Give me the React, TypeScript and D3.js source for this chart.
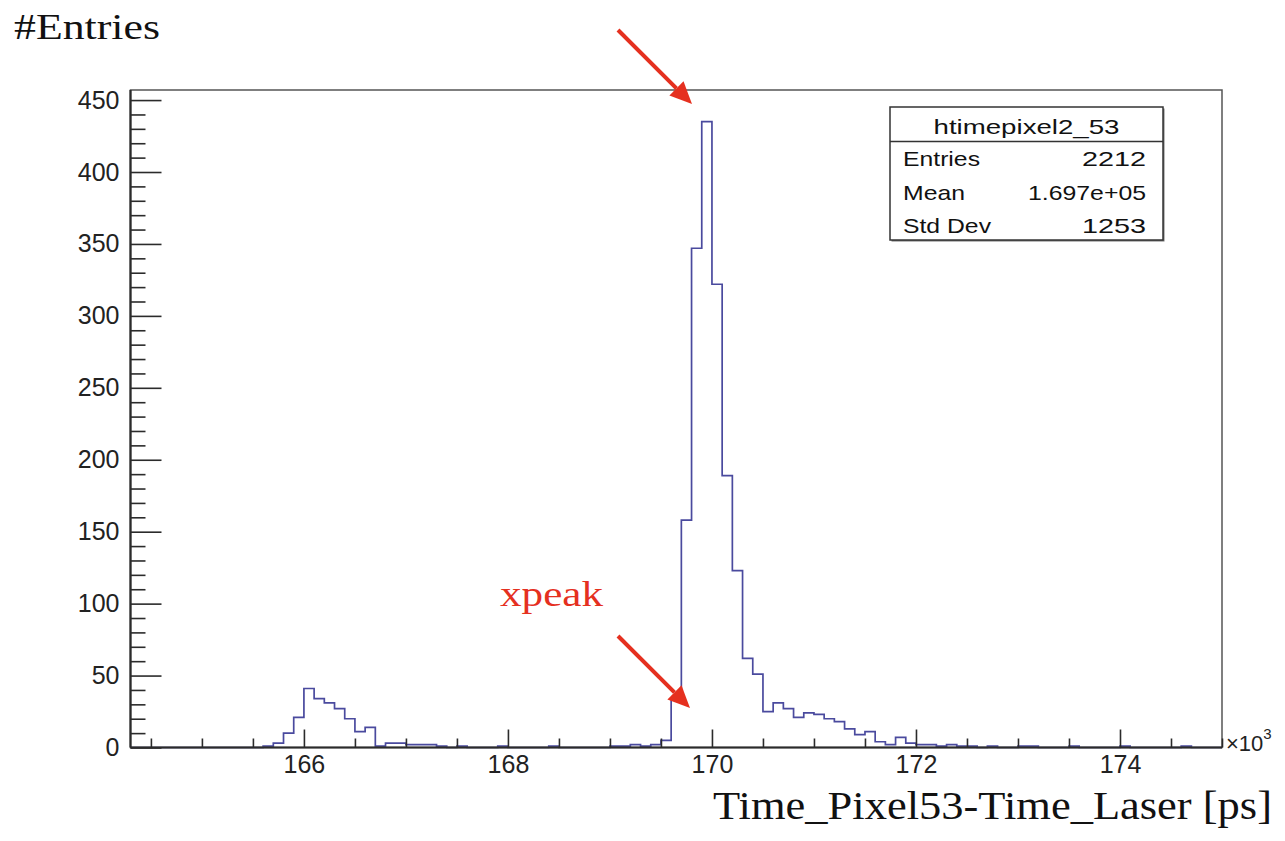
import React, { useEffect, useRef } from 'react';
import * as d3 from 'd3';

// htimepixel2_53, bins of 0.1 (x10^3 ps) starting at 164.3
const binLow = 164.3;
const binWidth = 0.1;
const counts = [
  0, 0, 0, 0, 0, 0, 0, 0, 0, 0,
  0, 0, 0, 1, 3, 10, 21, 41, 34, 31,
  27, 20, 11, 14, 1, 3, 3, 2, 2, 2,
  1, 0, 1, 0, 0, 0, 1, 0, 0, 0,
  0, 1, 0, 0, 0, 0, 0, 1, 1, 2,
  1, 2, 5, 34, 158, 347, 435, 322, 189, 123,
  62, 51, 25, 31, 27, 21, 24, 23, 20, 18,
  13, 9, 11, 4, 2, 7, 3, 2, 2, 1,
  2, 1, 1, 0, 1, 0, 0, 1, 1, 0,
  0, 0, 1, 0, 0, 0, 0, 1, 0, 0,
  0, 0, 0, 1, 0, 0, 0
];

const xMajorTicks = [166, 168, 170, 172, 174];
const yMajorTicks = [0, 50, 100, 150, 200, 250, 300, 350, 400, 450];

const histName = 'htimepixel2_53';
const statsLabels = ['Entries', 'Mean', 'Std Dev'];
const statsValues = ['2212', '1.697e+05', '1253'];

const App = () => {
  const svgRef = useRef<SVGSVGElement>(null);

  useEffect(() => {
    const width = 1285;
    const height = 841;
    const frame = { left: 130.5, right: 1222, top: 90, bottom: 747.5 };

    const svg = d3.select(svgRef.current);
    svg.selectAll('*').remove();
    svg.attr('width', width).attr('height', height);

    svg.append('rect').attr('width', width).attr('height', height).attr('fill', '#fff');

    const x = d3.scaleLinear().domain([164.3, 175]).range([frame.left, frame.right]);
    const y = d3.scaleLinear().domain([0, 457]).range([frame.bottom, frame.top]);

    const sans = 'Liberation Sans, Arial, sans-serif';
    const serif = 'Liberation Serif, Times New Roman, serif';
    const axisColor = '#2b2b2b';

    // histogram outline
    const pts: [number, number][] = counts.flatMap((c, i) => [
      [binLow + i * binWidth, c] as [number, number],
      [binLow + (i + 1) * binWidth, c] as [number, number]
    ]);
    const line = d3.line<[number, number]>().x(d => x(d[0])).y(d => y(d[1]));
    svg.append('path')
      .attr('d', line(pts))
      .attr('fill', 'none')
      .attr('stroke', '#4a4a9e')
      .attr('stroke-width', 1.7);

    // frame
    svg.append('rect')
      .attr('x', frame.left).attr('y', frame.top)
      .attr('width', frame.right - frame.left)
      .attr('height', frame.bottom - frame.top)
      .attr('fill', 'none')
      .attr('stroke', '#555')
      .attr('stroke-width', 1.5);

    // y axis
    const yMinor = d3.range(0, 451, 10).filter(v => v % 50 !== 0);
    const yAxis = svg.append('g').attr('transform', `translate(${frame.left},0)`);
    yAxis.call(d3.axisLeft(y).tickValues(yMinor).tickSize(-15).tickFormat(() => ''));
    yAxis.call(g => g.selectAll('.tick').attr('class', 'minor'));
    yAxis.call(d3.axisLeft(y).tickValues(yMajorTicks).tickSize(-31).tickPadding(11).tickFormat(d3.format('d')));
    yAxis.selectAll('text').attr('font-family', sans).attr('font-size', 25).attr('fill', '#222');
    yAxis.selectAll('line').attr('stroke', axisColor).attr('stroke-width', 1.6);
    yAxis.selectAll('.domain').attr('stroke', axisColor).attr('stroke-width', 2.2).attr('d', `M0,${frame.bottom}V${frame.top}`);

    // x axis
    const xMinor = d3.range(164.5, 175.01, 0.5).filter(v => Math.abs(v / 2 - Math.round(v / 2)) > 0.01);
    const xAxis = svg.append('g').attr('transform', `translate(0,${frame.bottom})`);
    xAxis.call(d3.axisBottom(x).tickValues(xMinor).tickSize(-9).tickFormat(() => ''));
    xAxis.call(g => g.selectAll('.tick').attr('class', 'minor'));
    xAxis.call(d3.axisBottom(x).tickValues(xMajorTicks).tickSize(-18).tickPadding(8).tickFormat(d3.format('d')));
    xAxis.selectAll('text').attr('font-family', sans).attr('font-size', 25).attr('fill', '#222');
    xAxis.selectAll('line').attr('stroke', axisColor).attr('stroke-width', 1.6);
    xAxis.selectAll('.domain').attr('stroke', axisColor).attr('stroke-width', 2.2).attr('d', `M${frame.left},0H${frame.right}`);

    // x10^3 exponent
    const expo = svg.append('text')
      .attr('x', 1226).attr('y', 751)
      .attr('font-family', sans).attr('font-size', 22).attr('fill', '#222');
    expo.append('tspan').text('×10');
    expo.append('tspan').attr('dy', -12).attr('font-size', 15).text('3');

    // stats box
    const box = { x: 890, y: 107, w: 273, h: 133, sep: 141.5 };
    svg.append('rect')
      .attr('x', box.x + 1.5).attr('y', box.y + 1.5)
      .attr('width', box.w).attr('height', box.h)
      .attr('fill', '#777');
    svg.append('rect')
      .attr('x', box.x).attr('y', box.y)
      .attr('width', box.w).attr('height', box.h)
      .attr('fill', '#fff').attr('stroke', '#333').attr('stroke-width', 1.5);
    svg.append('line')
      .attr('x1', box.x).attr('x2', box.x + box.w)
      .attr('y1', box.sep).attr('y2', box.sep)
      .attr('stroke', '#333').attr('stroke-width', 1.5);

    svg.append('text')
      .attr('x', box.x + box.w / 2).attr('y', 134)
      .attr('text-anchor', 'middle')
      .attr('font-family', sans).attr('font-size', 21).attr('fill', '#111')
      .attr('textLength', 186).attr('lengthAdjust', 'spacingAndGlyphs')
      .text(histName);

    const labelWidths = [77, 62, 88];
    const valueWidths = [64, 118, 64];
    const rowBase = [166, 200, 233];
    statsLabels.forEach((lab, i) => {
      svg.append('text')
        .attr('x', 903).attr('y', rowBase[i])
        .attr('font-family', sans).attr('font-size', 21).attr('fill', '#111')
        .attr('textLength', labelWidths[i]).attr('lengthAdjust', 'spacingAndGlyphs')
        .text(lab);
      svg.append('text')
        .attr('x', 1146).attr('y', rowBase[i])
        .attr('text-anchor', 'end')
        .attr('font-family', sans).attr('font-size', 21).attr('fill', '#111')
        .attr('textLength', valueWidths[i]).attr('lengthAdjust', 'spacingAndGlyphs')
        .text(statsValues[i]);
    });

    // annotations in serif
    svg.append('text')
      .attr('x', 14).attr('y', 39)
      .attr('font-family', serif).attr('font-size', 36).attr('fill', '#111')
      .attr('textLength', 146).attr('lengthAdjust', 'spacingAndGlyphs')
      .text('#Entries');

    svg.append('text')
      .attr('x', 713).attr('y', 819)
      .attr('font-family', serif).attr('font-size', 39).attr('fill', '#111')
      .attr('textLength', 559).attr('lengthAdjust', 'spacingAndGlyphs')
      .text('Time_Pixel53-Time_Laser [ps]');

    const red = '#e5301f';
    svg.append('text')
      .attr('x', 500).attr('y', 606)
      .attr('font-family', serif).attr('font-size', 36).attr('fill', red)
      .attr('textLength', 103).attr('lengthAdjust', 'spacingAndGlyphs')
      .text('xpeak');

    // red arrows
    const arrows = [
      { x1: 618, y1: 30, x2: 692, y2: 104 },
      { x1: 618, y1: 636, x2: 690, y2: 708 }
    ];
    arrows.forEach(a => {
      const ang = Math.atan2(a.y2 - a.y1, a.x2 - a.x1);
      const hl = 22;
      const hw = 10;
      const bx = a.x2 - hl * Math.cos(ang);
      const by = a.y2 - hl * Math.sin(ang);
      svg.append('line')
        .attr('x1', a.x1).attr('y1', a.y1).attr('x2', bx).attr('y2', by)
        .attr('stroke', red).attr('stroke-width', 4);
      const px = -Math.sin(ang) * hw;
      const py = Math.cos(ang) * hw;
      svg.append('path')
        .attr('d', `M${a.x2},${a.y2}L${bx + px},${by + py}L${bx - px},${by - py}Z`)
        .attr('fill', red);
    });
  }, []);

  return (
    <div style={{ position: 'absolute', left: 0, top: 0 }}>
      <svg ref={svgRef}></svg>
    </div>
  );
};

export default App;
